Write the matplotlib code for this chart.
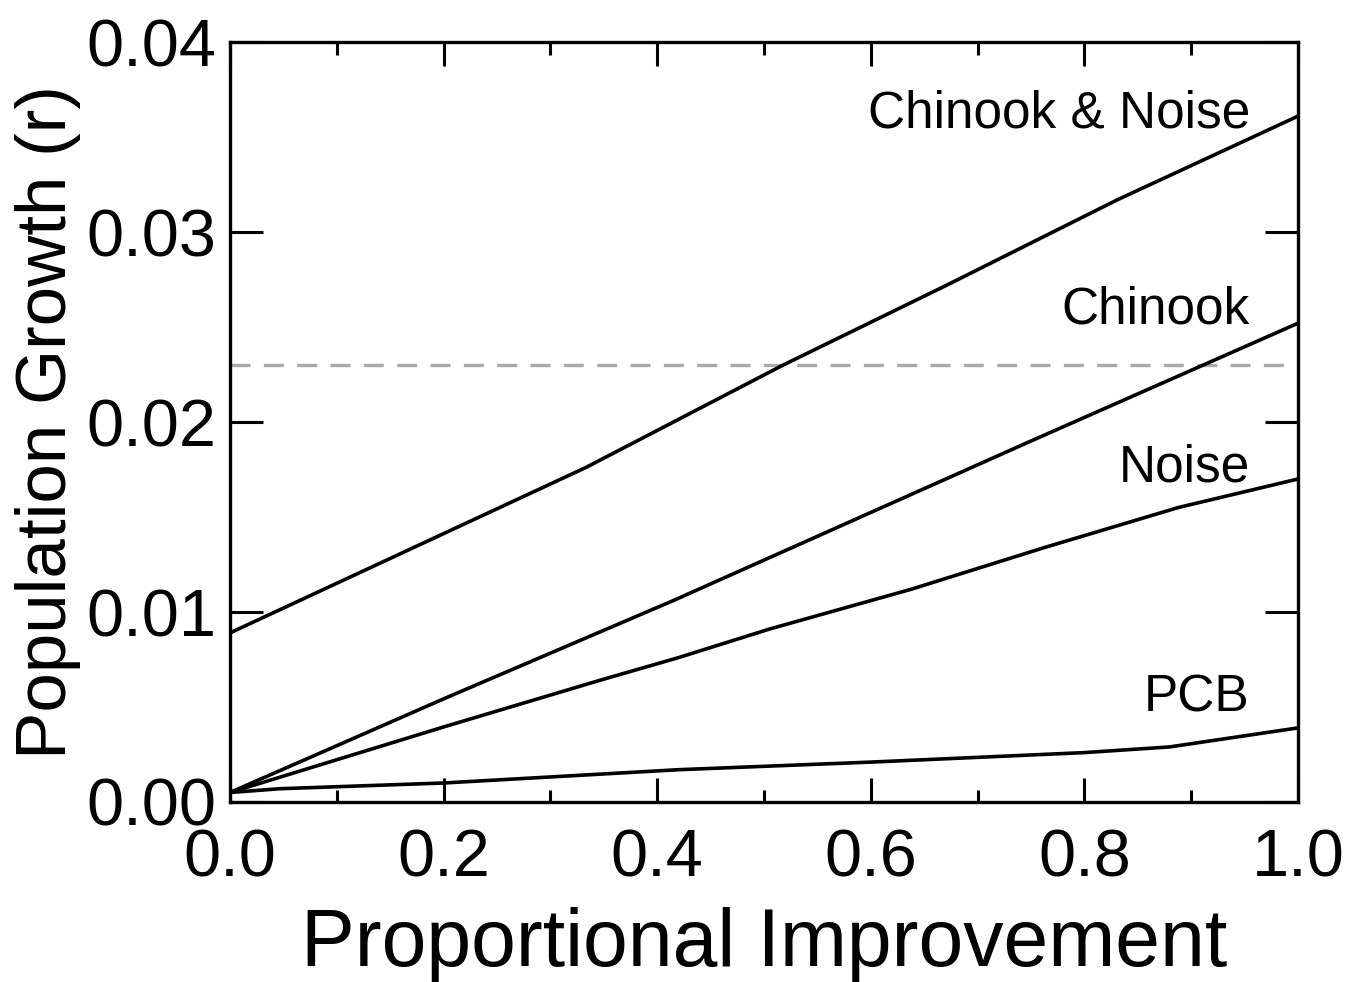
import numpy as np
import matplotlib.pyplot as plt
from matplotlib.ticker import MultipleLocator

plt.rcParams['font.family'] = ['Liberation Sans', 'DejaVu Sans']

# values
x_cn = [0.0, 0.333, 0.518, 0.671, 0.831, 1.0]
r_cn = [0.0089, 0.0176, 0.0230, 0.0272, 0.0317, 0.0361]

x_ch = [0.0, 0.203, 0.415, 0.75, 1.0]
r_ch = [0.0005, 0.0055, 0.0106, 0.0190, 0.0252]

x_no = [0.0, 0.203, 0.346, 0.42, 0.505, 0.638, 0.763, 0.888, 1.0]
r_no = [0.0005, 0.0040, 0.0064, 0.0076, 0.0091, 0.0112, 0.0134, 0.0155, 0.0170]

x_pcb = [0.0, 0.047, 0.2, 0.42, 0.6, 0.8, 0.88, 1.0]
r_pcb = [0.0005, 0.0007, 0.0010, 0.0017, 0.0021, 0.0026, 0.0029, 0.0039]

r_threshold = 0.0230

labels = ['Chinook & Noise', 'Chinook', 'Noise', 'PCB']
label_y = [0.0362, 0.0259, 0.0176, 0.0055]

fig = plt.figure(figsize=(13.48, 9.82), dpi=100)
ax = fig.add_axes([0.1706, 0.1833, 0.7923, 0.7739])

ax.axhline(r_threshold, color='#aaaaaa', lw=2.4, ls=(0, (6, 4)), zorder=1)
for xs, ys in [(x_cn, r_cn), (x_ch, r_ch), (x_no, r_no), (x_pcb, r_pcb)]:
    ax.plot(xs, ys, color='black', lw=2.6, zorder=2)

for lab, yy in zip(labels, label_y):
    ax.text(0.955, yy, lab, ha='right', va='center', fontsize=37)

ax.set_xlim(0, 1.0)
ax.set_ylim(0, 0.04)
ax.xaxis.set_major_locator(MultipleLocator(0.2))
ax.xaxis.set_minor_locator(MultipleLocator(0.1))
ax.yaxis.set_major_locator(MultipleLocator(0.01))
ax.xaxis.set_major_formatter(plt.FuncFormatter(lambda v, p: f'{v:.1f}'))
ax.yaxis.set_major_formatter(plt.FuncFormatter(lambda v, p: f'{v:.2f}'))

ax.tick_params(axis='both', which='both', direction='in', top=True, right=True, width=2.2, labelsize=48)
ax.tick_params(axis='x', which='major', length=17, pad=19)
ax.tick_params(axis='x', which='minor', length=9)
ax.tick_params(axis='y', which='major', length=24, pad=10)
for s in ax.spines.values():
    s.set_linewidth(2.4)

ax.set_xlabel('Proportional Improvement', fontsize=58, labelpad=12)
ax.set_ylabel('Population Growth (r)', fontsize=51, labelpad=4)

fig.savefig('out.png', dpi=100)
